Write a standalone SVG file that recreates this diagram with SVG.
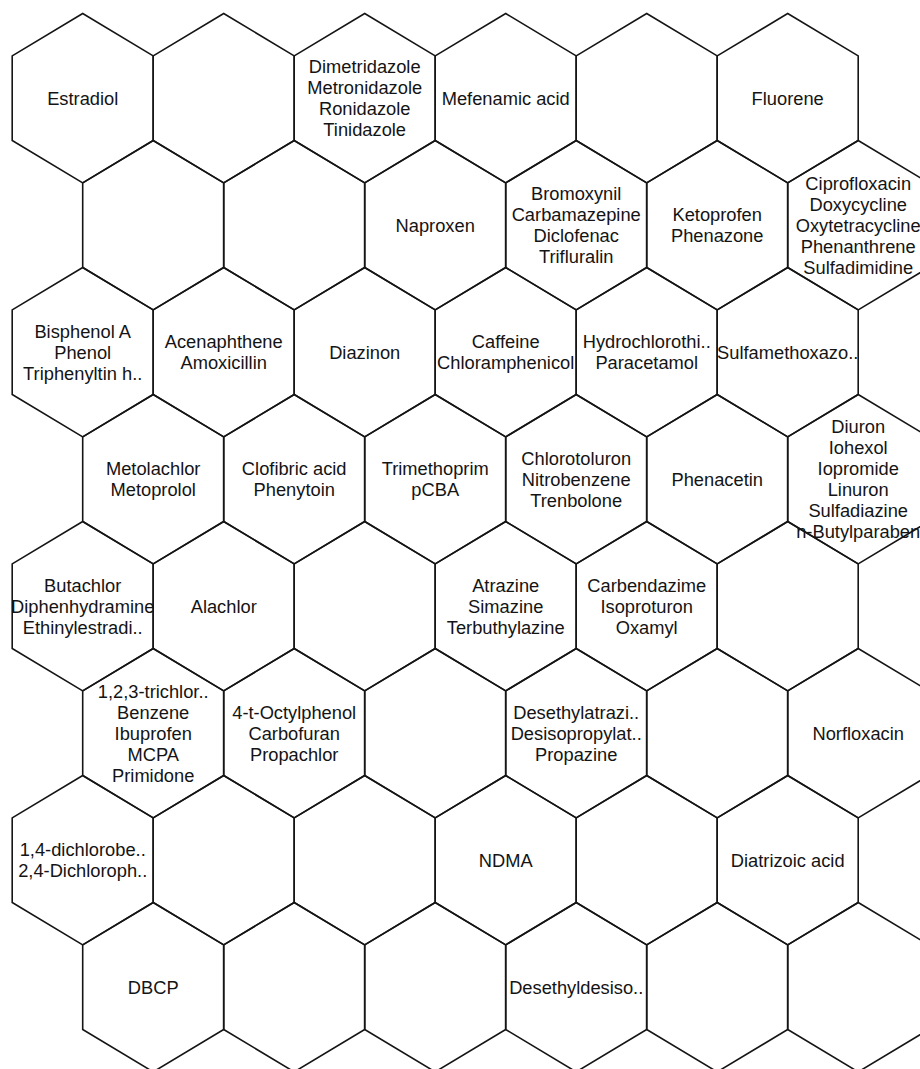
<svg xmlns="http://www.w3.org/2000/svg" xmlns:xlink="http://www.w3.org/1999/xlink" width="920" height="1069" viewBox="0 0 920 1069">
<style>
.hex{fill:none;stroke:#151515;stroke-width:1.6;stroke-linejoin:miter}
text{font-family:"Liberation Sans",Arial,Helvetica,sans-serif;font-size:18.3px;fill:#141414;stroke:none;text-anchor:middle}
</style>
<defs>
<polygon id="hex" points="0,-84.67 70.5,-42.33 70.5,42.33 0,84.67 -70.5,42.33 -70.5,-42.33"/>
</defs>
<rect width="920" height="1069" fill="#fff"/>
<g id="cells">
<!-- row 0 -->
<g id="r0c0" transform="translate(82.7,98.2)"><use xlink:href="#hex" class="hex"/><text><tspan x="0" y="6.5">Estradiol</tspan></text></g>
<g id="r0c1" transform="translate(223.7,98.2)"><use xlink:href="#hex" class="hex"/></g>
<g id="r0c2" transform="translate(364.7,98.2)"><use xlink:href="#hex" class="hex"/><text><tspan x="0" y="-25">Dimetridazole</tspan><tspan x="0" y="-4">Metronidazole</tspan><tspan x="0" y="17">Ronidazole</tspan><tspan x="0" y="38">Tinidazole</tspan></text></g>
<g id="r0c3" transform="translate(505.7,98.2)"><use xlink:href="#hex" class="hex"/><text><tspan x="0" y="6.5">Mefenamic acid</tspan></text></g>
<g id="r0c4" transform="translate(646.7,98.2)"><use xlink:href="#hex" class="hex"/></g>
<g id="r0c5" transform="translate(787.7,98.2)"><use xlink:href="#hex" class="hex"/><text><tspan x="0" y="6.5">Fluorene</tspan></text></g>
<!-- row 1 -->
<g id="r1c0" transform="translate(153.2,225.2)"><use xlink:href="#hex" class="hex"/></g>
<g id="r1c1" transform="translate(294.2,225.2)"><use xlink:href="#hex" class="hex"/></g>
<g id="r1c2" transform="translate(435.2,225.2)"><use xlink:href="#hex" class="hex"/><text><tspan x="0" y="6.5">Naproxen</tspan></text></g>
<g id="r1c3" transform="translate(576.2,225.2)"><use xlink:href="#hex" class="hex"/><text><tspan x="0" y="-25">Bromoxynil</tspan><tspan x="0" y="-4">Carbamazepine</tspan><tspan x="0" y="17">Diclofenac</tspan><tspan x="0" y="38">Trifluralin</tspan></text></g>
<g id="r1c4" transform="translate(717.2,225.2)"><use xlink:href="#hex" class="hex"/><text><tspan x="0" y="-4">Ketoprofen</tspan><tspan x="0" y="17">Phenazone</tspan></text></g>
<g id="r1c5" transform="translate(858.2,225.2)"><use xlink:href="#hex" class="hex"/><text><tspan x="0" y="-35.5">Ciprofloxacin</tspan><tspan x="0" y="-14.5">Doxycycline</tspan><tspan x="0" y="6.5">Oxytetracycline</tspan><tspan x="0" y="27.5">Phenanthrene</tspan><tspan x="0" y="48.5">Sulfadimidine</tspan></text></g>
<!-- row 2 -->
<g id="r2c0" transform="translate(82.7,352.2)"><use xlink:href="#hex" class="hex"/><text><tspan x="0" y="-14.5">Bisphenol A</tspan><tspan x="0" y="6.5">Phenol</tspan><tspan x="0" y="27.5">Triphenyltin h..</tspan></text></g>
<g id="r2c1" transform="translate(223.7,352.2)"><use xlink:href="#hex" class="hex"/><text><tspan x="0" y="-4">Acenaphthene</tspan><tspan x="0" y="17">Amoxicillin</tspan></text></g>
<g id="r2c2" transform="translate(364.7,352.2)"><use xlink:href="#hex" class="hex"/><text><tspan x="0" y="6.5">Diazinon</tspan></text></g>
<g id="r2c3" transform="translate(505.7,352.2)"><use xlink:href="#hex" class="hex"/><text><tspan x="0" y="-4">Caffeine</tspan><tspan x="0" y="17">Chloramphenicol</tspan></text></g>
<g id="r2c4" transform="translate(646.7,352.2)"><use xlink:href="#hex" class="hex"/><text><tspan x="0" y="-4">Hydrochlorothi..</tspan><tspan x="0" y="17">Paracetamol</tspan></text></g>
<g id="r2c5" transform="translate(787.7,352.2)"><use xlink:href="#hex" class="hex"/><text><tspan x="0" y="6.5">Sulfamethoxazo..</tspan></text></g>
<!-- row 3 -->
<g id="r3c0" transform="translate(153.2,479.2)"><use xlink:href="#hex" class="hex"/><text><tspan x="0" y="-4">Metolachlor</tspan><tspan x="0" y="17">Metoprolol</tspan></text></g>
<g id="r3c1" transform="translate(294.2,479.2)"><use xlink:href="#hex" class="hex"/><text><tspan x="0" y="-4">Clofibric acid</tspan><tspan x="0" y="17">Phenytoin</tspan></text></g>
<g id="r3c2" transform="translate(435.2,479.2)"><use xlink:href="#hex" class="hex"/><text><tspan x="0" y="-4">Trimethoprim</tspan><tspan x="0" y="17">pCBA</tspan></text></g>
<g id="r3c3" transform="translate(576.2,479.2)"><use xlink:href="#hex" class="hex"/><text><tspan x="0" y="-14.5">Chlorotoluron</tspan><tspan x="0" y="6.5">Nitrobenzene</tspan><tspan x="0" y="27.5">Trenbolone</tspan></text></g>
<g id="r3c4" transform="translate(717.2,479.2)"><use xlink:href="#hex" class="hex"/><text><tspan x="0" y="6.5">Phenacetin</tspan></text></g>
<g id="r3c5" transform="translate(858.2,479.2)"><use xlink:href="#hex" class="hex"/><text><tspan x="0" y="-46">Diuron</tspan><tspan x="0" y="-25">Iohexol</tspan><tspan x="0" y="-4">Iopromide</tspan><tspan x="0" y="17">Linuron</tspan><tspan x="0" y="38">Sulfadiazine</tspan><tspan x="0" y="59">n-Butylparaben</tspan></text></g>
<!-- row 4 -->
<g id="r4c0" transform="translate(82.7,606.2)"><use xlink:href="#hex" class="hex"/><text><tspan x="0" y="-14.5">Butachlor</tspan><tspan x="0" y="6.5">Diphenhydramine</tspan><tspan x="0" y="27.5">Ethinylestradi..</tspan></text></g>
<g id="r4c1" transform="translate(223.7,606.2)"><use xlink:href="#hex" class="hex"/><text><tspan x="0" y="6.5">Alachlor</tspan></text></g>
<g id="r4c2" transform="translate(364.7,606.2)"><use xlink:href="#hex" class="hex"/></g>
<g id="r4c3" transform="translate(505.7,606.2)"><use xlink:href="#hex" class="hex"/><text><tspan x="0" y="-14.5">Atrazine</tspan><tspan x="0" y="6.5">Simazine</tspan><tspan x="0" y="27.5">Terbuthylazine</tspan></text></g>
<g id="r4c4" transform="translate(646.7,606.2)"><use xlink:href="#hex" class="hex"/><text><tspan x="0" y="-14.5">Carbendazime</tspan><tspan x="0" y="6.5">Isoproturon</tspan><tspan x="0" y="27.5">Oxamyl</tspan></text></g>
<g id="r4c5" transform="translate(787.7,606.2)"><use xlink:href="#hex" class="hex"/></g>
<!-- row 5 -->
<g id="r5c0" transform="translate(153.2,733.2)"><use xlink:href="#hex" class="hex"/><text><tspan x="0" y="-35.5">1,2,3-trichlor..</tspan><tspan x="0" y="-14.5">Benzene</tspan><tspan x="0" y="6.5">Ibuprofen</tspan><tspan x="0" y="27.5">MCPA</tspan><tspan x="0" y="48.5">Primidone</tspan></text></g>
<g id="r5c1" transform="translate(294.2,733.2)"><use xlink:href="#hex" class="hex"/><text><tspan x="0" y="-14.5">4-t-Octylphenol</tspan><tspan x="0" y="6.5">Carbofuran</tspan><tspan x="0" y="27.5">Propachlor</tspan></text></g>
<g id="r5c2" transform="translate(435.2,733.2)"><use xlink:href="#hex" class="hex"/></g>
<g id="r5c3" transform="translate(576.2,733.2)"><use xlink:href="#hex" class="hex"/><text><tspan x="0" y="-14.5">Desethylatrazi..</tspan><tspan x="0" y="6.5">Desisopropylat..</tspan><tspan x="0" y="27.5">Propazine</tspan></text></g>
<g id="r5c4" transform="translate(717.2,733.2)"><use xlink:href="#hex" class="hex"/></g>
<g id="r5c5" transform="translate(858.2,733.2)"><use xlink:href="#hex" class="hex"/><text><tspan x="0" y="6.5">Norfloxacin</tspan></text></g>
<!-- row 6 -->
<g id="r6c0" transform="translate(82.7,860.2)"><use xlink:href="#hex" class="hex"/><text><tspan x="0" y="-4">1,4-dichlorobe..</tspan><tspan x="0" y="17">2,4-Dichloroph..</tspan></text></g>
<g id="r6c1" transform="translate(223.7,860.2)"><use xlink:href="#hex" class="hex"/></g>
<g id="r6c2" transform="translate(364.7,860.2)"><use xlink:href="#hex" class="hex"/></g>
<g id="r6c3" transform="translate(505.7,860.2)"><use xlink:href="#hex" class="hex"/><text><tspan x="0" y="6.5">NDMA</tspan></text></g>
<g id="r6c4" transform="translate(646.7,860.2)"><use xlink:href="#hex" class="hex"/></g>
<g id="r6c5" transform="translate(787.7,860.2)"><use xlink:href="#hex" class="hex"/><text><tspan x="0" y="6.5">Diatrizoic acid</tspan></text></g>
<!-- row 7 -->
<g id="r7c0" transform="translate(153.2,987.2)"><use xlink:href="#hex" class="hex"/><text><tspan x="0" y="6.5">DBCP</tspan></text></g>
<g id="r7c1" transform="translate(294.2,987.2)"><use xlink:href="#hex" class="hex"/></g>
<g id="r7c2" transform="translate(435.2,987.2)"><use xlink:href="#hex" class="hex"/></g>
<g id="r7c3" transform="translate(576.2,987.2)"><use xlink:href="#hex" class="hex"/><text><tspan x="0" y="6.5">Desethyldesiso..</tspan></text></g>
<g id="r7c4" transform="translate(717.2,987.2)"><use xlink:href="#hex" class="hex"/></g>
<g id="r7c5" transform="translate(858.2,987.2)"><use xlink:href="#hex" class="hex"/></g>
</g>
</svg>
